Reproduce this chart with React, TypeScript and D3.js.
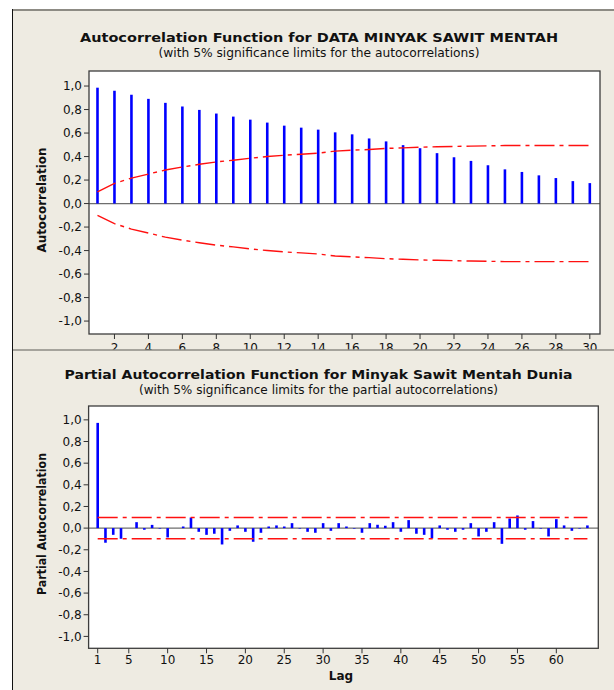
import * as d3 from "d3";
import { useLayoutEffect } from "react";

// ACF values, lags 1..30
const acfValues = [
  0.986, 0.96, 0.926, 0.891, 0.857, 0.826, 0.797, 0.766, 0.74, 0.714,
  0.689, 0.663, 0.646, 0.629, 0.606, 0.589, 0.554, 0.529, 0.497, 0.471,
  0.429, 0.394, 0.363, 0.326, 0.291, 0.269, 0.24, 0.217, 0.191, 0.174,
];
// 5% significance limit (upper, lower is mirrored)
const acfLimits = [
  0.1, 0.171, 0.217, 0.251, 0.286, 0.311, 0.334, 0.354, 0.369, 0.386,
  0.4, 0.411, 0.42, 0.429, 0.446, 0.454, 0.46, 0.469, 0.474, 0.48,
  0.483, 0.486, 0.489, 0.491, 0.494, 0.494, 0.494, 0.494, 0.494, 0.494,
];
const acfTicks = [2, 4, 6, 8, 10, 12, 14, 16, 18, 20, 22, 24, 26, 28, 30];

// PACF values, lags 1..64
const pacfValues = [
  0.972, -0.135, -0.062, -0.098, 0.0, 0.055, -0.015, 0.03, -0.005, -0.086,
  0.0, 0.015, 0.098, -0.034, -0.062, -0.052, -0.151, -0.025, 0.025, -0.034,
  -0.126, -0.043, 0.015, 0.025, 0.015, 0.046, -0.005, -0.034, -0.043, 0.046,
  -0.025, 0.046, 0.015, -0.005, -0.043, 0.046, 0.031, 0.022, 0.055, -0.034,
  0.074, -0.052, -0.062, -0.095, 0.025, -0.015, -0.034, -0.015, 0.046, -0.077,
  -0.034, 0.055, -0.145, 0.089, 0.117, -0.015, 0.065, -0.005, -0.077, 0.083,
  0.025, -0.025, -0.005, 0.025,
];
const pacfLimit = 0.098;
const pacfTicks = [1, 5, 10, 15, 20, 25, 30, 35, 40, 45, 50, 55, 60];

const yTicks = [1, 0.8, 0.6, 0.4, 0.2, 0, -0.2, -0.4, -0.6, -0.8, -1];

const FONT = "'DejaVu Sans', Verdana, sans-serif";
const BEIGE = "#EEEBE2";
const DASH = "20,5,4,5";

const fmt = (v) => d3.format(".1f")(v).replace(".", ",").replace("\u2212", "-");

const Correlogram = ({
  values,
  limits,
  xTicks,
  xDomain,
  left,
  right,
  top,
  bottom,
  tickLabelY,
}) => {
  const x = d3.scaleLinear().domain(xDomain).range([left, right]);
  const y = d3.scaleLinear().domain([1.128, -1.11]).range([top, bottom]);

  const upper = d3
    .line()
    .x((d, i) => x(i + 1))
    .y((d) => y(d));
  const lower = d3
    .line()
    .x((d, i) => x(i + 1))
    .y((d) => y(-d));

  return (
    <g>
      <rect x={left} y={top} width={right - left} height={bottom - top} fill="white" />
      <line x1={left} x2={right} y1={y(0)} y2={y(0)} stroke="#6e6e6e" strokeWidth={1.2} />
      {values.map((v, i) => (
        <line
          key={i}
          x1={x(i + 1)}
          x2={x(i + 1)}
          y1={y(0)}
          y2={y(v)}
          stroke="#0000FF"
          strokeWidth={2.6}
        />
      ))}
      <path d={upper(limits)} fill="none" stroke="#FF1010" strokeWidth={1.4} strokeDasharray={DASH} />
      <path d={lower(limits)} fill="none" stroke="#FF1010" strokeWidth={1.4} strokeDasharray={DASH} />
      <rect
        x={left}
        y={top}
        width={right - left}
        height={bottom - top}
        fill="none"
        stroke="#3c3c3c"
        strokeWidth={1.3}
      />
      {yTicks.map((t) => (
        <g key={t}>
          <line x1={left - 5} x2={left} y1={y(t)} y2={y(t)} stroke="#333" />
          <text
            x={left - 7}
            y={y(t)}
            dy="0.36em"
            textAnchor="end"
            fontFamily={FONT}
            fontSize={12}
            fill="#111"
          >
            {fmt(t)}
          </text>
        </g>
      ))}
      {xTicks.map((t) => (
        <g key={t}>
          <line x1={x(t)} x2={x(t)} y1={bottom} y2={bottom + 5} stroke="#333" />
          <text x={x(t)} y={tickLabelY} textAnchor="middle" fontFamily={FONT} fontSize={12} fill="#111">
            {t}
          </text>
        </g>
      ))}
    </g>
  );
};

export default function App() {
  useLayoutEffect(() => {
    document.body.style.margin = "0";
  }, []);

  const pacfLimits = pacfValues.map(() => pacfLimit);

  return (
    <svg width={614} height={690} style={{ display: "block" }}>
      <rect width={614} height={690} fill="white" />

      {/* top panel */}
      <rect x={13} y={10} width={601} height={340} fill={BEIGE} />
      <line x1={13} x2={614} y1={10} y2={10} stroke="#8d8b84" strokeWidth={2} />
      <line x1={12.5} x2={12.5} y1={9} y2={350} stroke="#111" strokeWidth={1} />
      <text x={319} y={42} textAnchor="middle" fontFamily={FONT} fontWeight="bold" fontSize={13}
        textLength={478} lengthAdjust="spacingAndGlyphs" fill="#111">
        Autocorrelation Function for DATA MINYAK SAWIT MENTAH
      </text>
      <text x={319} y={57} textAnchor="middle" fontFamily={FONT} fontSize={12}
        textLength={321} lengthAdjust="spacingAndGlyphs" fill="#111">
        (with 5% significance limits for the autocorrelations)
      </text>
      <text transform="translate(46,200) rotate(-90)" textAnchor="middle" fontFamily={FONT}
        fontWeight="bold" fontSize={12} textLength={105} lengthAdjust="spacingAndGlyphs" fill="#111">
        Autocorrelation
      </text>
      <Correlogram
        values={acfValues}
        limits={acfLimits}
        xTicks={acfTicks}
        xDomain={[0.5, 30.6]}
        left={89}
        right={600}
        top={71}
        bottom={334}
        tickLabelY={351.5}
      />

      {/* bottom panel */}
      <rect x={13} y={350} width={601} height={340} fill={BEIGE} />
      <line x1={13} x2={614} y1={350} y2={350} stroke="#8d8b84" strokeWidth={1.5} />
      <line x1={12.5} x2={12.5} y1={350} y2={690} stroke="#111" strokeWidth={1} />
      <text x={318.5} y={379} textAnchor="middle" fontFamily={FONT} fontWeight="bold" fontSize={13}
        textLength={508} lengthAdjust="spacingAndGlyphs" fill="#111">
        Partial Autocorrelation Function for Minyak Sawit Mentah Dunia
      </text>
      <text x={318.5} y={393.5} textAnchor="middle" fontFamily={FONT} fontSize={12}
        textLength={359} lengthAdjust="spacingAndGlyphs" fill="#111">
        (with 5% significance limits for the partial autocorrelations)
      </text>
      <text transform="translate(46,524) rotate(-90)" textAnchor="middle" fontFamily={FONT}
        fontWeight="bold" fontSize={12} textLength={142} lengthAdjust="spacingAndGlyphs" fill="#111">
        Partial Autocorrelation
      </text>
      <Correlogram
        values={pacfValues}
        limits={pacfLimits}
        xTicks={pacfTicks}
        xDomain={[-0.17, 65.4]}
        left={88.6}
        right={598.3}
        top={406}
        bottom={648.3}
        tickLabelY={664}
      />
      <text x={341} y={680} textAnchor="middle" fontFamily={FONT} fontWeight="bold" fontSize={12} fill="#111">
        Lag
      </text>
    </svg>
  );
}
